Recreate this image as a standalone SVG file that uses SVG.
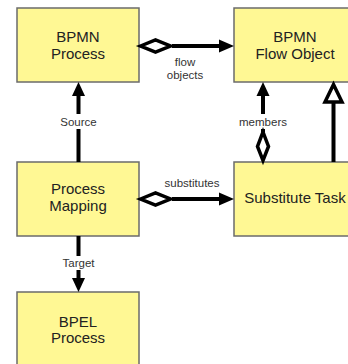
<svg xmlns="http://www.w3.org/2000/svg" width="348" height="364" viewBox="0 0 348 364">
<style>
.box{fill:#FFF894;stroke:#6b6b6b;stroke-width:1.5}
.t{font-family:"Liberation Sans",Arial,sans-serif;font-size:15px;fill:#222;text-anchor:middle}
.l{font-family:"Liberation Sans",Arial,sans-serif;font-size:11.5px;fill:#333;text-anchor:middle}
.ln{stroke:#000;stroke-width:4;fill:none}
.dm{stroke:#000;stroke-width:3.5;fill:#fff;stroke-linejoin:miter}
.ah{fill:#000}
.gen{stroke:#000;stroke-width:3.5;fill:#fff;stroke-linejoin:miter}
</style>
<rect width="348" height="364" fill="#fff"/>
<g id="bpmn-process"><rect class="box" x="17" y="8" width="122" height="74"/><text class="t" x="78" y="42">BPMN</text><text class="t" x="78" y="58.5">Process</text></g>
<g id="bpmn-flow-object"><rect class="box" x="234" y="8" width="122" height="74"/><text class="t" x="295" y="42">BPMN</text><text class="t" x="295" y="58.5">Flow Object</text></g>
<g id="process-mapping"><rect class="box" x="17" y="162" width="122" height="74"/><text class="t" x="78" y="194">Process</text><text class="t" x="78" y="211">Mapping</text></g>
<g id="substitute-task"><rect class="box" x="234" y="162" width="122" height="74"/><text class="t" x="295" y="203">Substitute Task</text></g>
<g id="bpel-process"><rect class="box" x="17" y="292" width="122" height="74"/><text class="t" x="78" y="327">BPEL</text><text class="t" x="78" y="343">Process</text></g>
<g id="connectors">
<line class="ln" x1="172" y1="46" x2="221" y2="46"/>
<path class="dm" d="M140.5 46 L155.5 40 L170.5 46 L155.5 52 Z"/>
<path class="ah" d="M234 46 L219 39.5 L219 52.5 Z"/>
<text class="l" x="185" y="66">flow</text><text class="l" x="185" y="79">objects</text>
<line class="ln" x1="172" y1="199" x2="221" y2="199"/>
<path class="dm" d="M140.5 199 L155.5 193 L170.5 199 L155.5 205 Z"/>
<path class="ah" d="M234 199 L219 192.5 L219 205.5 Z"/>
<text class="l" x="192" y="187">substitutes</text>
<line class="ln" x1="78.5" y1="162" x2="78.5" y2="129"/>
<line class="ln" x1="78.5" y1="114" x2="78.5" y2="94"/>
<path class="ah" d="M78.5 82 L72 96 L85 96 Z"/>
<text class="l" x="78.5" y="126">Source</text>
<line class="ln" x1="78.5" y1="236" x2="78.5" y2="256"/>
<line class="ln" x1="78.5" y1="270" x2="78.5" y2="280"/>
<path class="ah" d="M78.5 292 L72 278 L85 278 Z"/>
<text class="l" x="78.5" y="267">Target</text>
<line class="ln" x1="263" y1="132" x2="263" y2="129"/>
<line class="ln" x1="263" y1="114" x2="263" y2="94"/>
<path class="ah" d="M263 82 L256.5 96 L269.5 96 Z"/>
<path class="dm" d="M263 132 L268.5 146.5 L263 160.5 L257.5 146.5 Z"/>
<text class="l" x="263" y="126">members</text>
<line class="ln" x1="333.5" y1="162" x2="333.5" y2="103"/>
<path class="gen" d="M333.5 84.5 L342 102 L325 102 Z"/>
</g>
</svg>
